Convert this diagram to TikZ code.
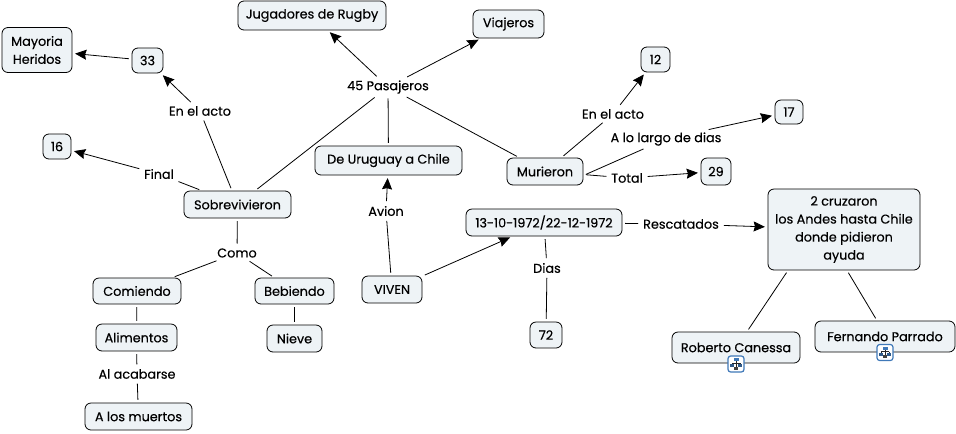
\documentclass[tikz,border=0pt]{standalone}
\usepackage{fontspec}
\setmainfont[FakeBold=0.35,AutoFakeBold=0.35]{Poppins}
\usetikzlibrary{arrows.meta,positioning}
\tikzset{
  x=0.75pt,y=-0.75pt,
  concept/.style={draw=black,fill=boxfill,rounded corners=4.5pt,line width=0.6pt,inner sep=0pt,align=center,font=\bfseries\fontsize{9.6}{13.5}\selectfont,text=black},
  link/.style={inner sep=1.5pt,align=center,font=\bfseries\fontsize{9.6}{12}\selectfont,text=black},
  line/.style={draw=black,line width=0.6pt,shorten >=2pt,shorten <=2pt},
  arrowline/.style={line,-{Stealth[length=8.5pt,width=7.5pt,inset=1pt]}},
  iconbox/.style={draw=iconblue,fill=white,rounded corners=2pt,line width=0.9pt,minimum size=12pt,inner sep=0pt},
}
\definecolor{boxfill}{HTML}{EEF3F6}
\definecolor{iconblue}{HTML}{3F78B8}
\newcommand{\cbox}[7]{\node[concept,minimum width=#3*0.75pt,minimum height=#4*0.75pt] (#5) at (#1,#2) {#6};}
\newcommand{\iconglyph}[1]{%
  \draw[line width=0.45pt,draw=black!85] (#1)++(0,-3)--++(0,6) (#1)++(-4,-1)--++(8,0) (#1)++(-4,-1)--++(0,2) (#1)++(4,-1)--++(0,2);
  \fill[iconblue] (#1)++(-2.5,-6) rectangle ++(5,3.2);
  \fill[iconblue!75!black] (#1)++(-5.8,0.2) rectangle ++(3.4,3);
  \fill[iconblue!75!black] (#1)++(2.4,0.2) rectangle ++(3.4,3);
  \fill[black!75] (#1)++(-1.7,2.6) rectangle ++(3.4,3.2);
}
\begin{document}
\begin{tikzpicture}
\useasboundingbox (0,0) rectangle (956,433);
\cbox{37}{50}{70}{45}{may}{Mayoria\\Heridos}{}
\cbox{147.5}{60.5}{31}{25}{n33}{33}{}
\cbox{312}{15.5}{148}{29}{jug}{Jugadores de Rugby}{}
\cbox{508.5}{24}{71}{28}{via}{Viajeros}{}
\cbox{655.5}{59.5}{29}{25}{n12}{12}{}
\cbox{789}{112}{28}{24}{n17}{17}{}
\cbox{57}{146.5}{28}{25}{n16}{16}{}
\cbox{237.5}{204.5}{107}{27}{sob}{Sobrevivieron}{}
\cbox{388.5}{160.5}{147}{29}{uru}{De Uruguay a Chile}{}
\cbox{545}{171.5}{76}{27}{mur}{Murieron}{}
\cbox{716}{171.5}{30}{27}{n29}{29}{}
\cbox{844}{229.5}{152}{81}{cru}{2 cruzaron\\los Andes hasta Chile\\donde pidieron\\ayuda}{}
\cbox{544}{222.5}{156}{27}{fec}{13-10-1972/22-12-1972}{}
\cbox{546}{335}{32}{26}{n72}{72}{}
\cbox{137}{291}{88}{26}{com}{Comiendo}{}
\cbox{294.5}{291}{79}{26}{beb}{Bebiendo}{}
\cbox{392}{289.5}{60}{27}{viv}{VIVEN}{}
\cbox{136.5}{337.5}{81}{27}{ali}{Alimentos}{}
\cbox{294.5}{338.5}{55}{27}{nie}{Nieve}{}
\cbox{138.5}{416.5}{107}{27}{mue}{A los muertos}{}
\cbox{736}{347.5}{128}{31}{rob}{Roberto Canessa}{}
\cbox{885}{336.5}{140}{31}{fer}{Fernando Parrado}{}

\node[link] (pas) at (388,87) {45 Pasajeros};
\node[link] (act1) at (200,111) {En el acto};
\node[link] (fin) at (159,174) {Final};
\node[link] (act2) at (613,114) {En el acto};
\node[link] (lar) at (666,139) {A lo largo de dias};
\node[link] (tot) at (627,178) {Total};
\node[link] (res) at (681,224) {Rescatados};
\node[link] (dia) at (547,268) {Dias};
\node[link] (como) at (237,253) {Como};
\node[link] (acab) at (137,374) {Al acabarse};
\node[link] (avi) at (386,211) {Avion};

\draw[line] (sob) -- (act1);
\draw[arrowline] (act1) -- (n33);
\draw[arrowline] (n33) -- (may);
\draw[line] (sob) -- (fin);
\draw[arrowline] (fin) -- (n16);
\draw[line] (sob) -- (pas);
\draw[arrowline] (pas) -- (jug);
\draw[arrowline] (pas) -- (via);
\draw[line] (pas) -- (uru);
\draw[line] (pas) -- (mur);
\draw[line] (mur) -- (act2);
\draw[arrowline] (act2) -- (n12);
\draw[line] ([yshift=-3pt]mur.east) -- (lar);
\draw[arrowline] ([xshift=30pt]lar.north) -- (n17);
\draw[line] (mur) -- (tot);
\draw[arrowline] (tot) -- (n29);
\draw[line] (viv) -- (avi);
\draw[arrowline] (avi) -- (uru);
\draw[arrowline] (viv) -- (fec);
\draw[line] (fec) -- (res);
\draw[arrowline] (res) -- (cru);
\draw[line] (fec) -- (dia);
\draw[line] (dia) -- (n72);
\draw[line] (sob) -- (como);
\draw[line] (como) -- (com);
\draw[line] (como) -- (beb);
\draw[line] (com) -- (ali);
\draw[line] (beb) -- (nie);
\draw[line] (ali) -- (acab);
\draw[line] (acab) -- (mue);
\draw[line] ([xshift=-42pt]cru.south) -- ([xshift=8.25pt]rob.north);
\draw[line] ([xshift=2.25pt]cru.south) -- ([xshift=-6pt]fer.north);

\node[iconbox] (ic1) at (736,364) {};
\iconglyph{ic1.center}
\node[iconbox] (ic2) at (885,352.5) {};
\iconglyph{ic2.center}
\end{tikzpicture}
\end{document}
